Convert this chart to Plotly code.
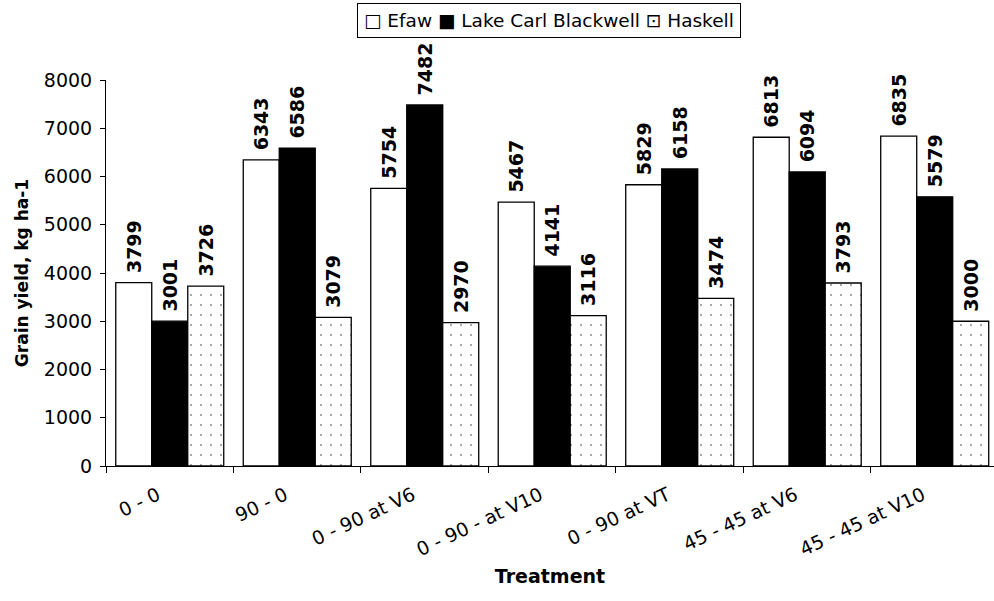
import plotly.graph_objects as go

treatments = ["0 - 0", "90 - 0", "0 - 90 at V6", "0 - 90 - at V10",
              "0 - 90 at VT", "45 - 45 at V6", "45 - 45 at V10"]
efaw = [3799, 6343, 5754, 5467, 5829, 6813, 6835]
lake_carl_blackwell = [3001, 6586, 7482, 4141, 6158, 6094, 5579]
haskell = [3726, 3079, 2970, 3116, 3474, 3793, 3000]

series_names = ["Efaw", "Lake Carl Blackwell", "Haskell"]
legend_marks = ["\u25A1", "\u25A0", "\u22A1"]

FONT = "DejaVu Sans"
outline = dict(color="black", width=1.3)

fig = go.Figure()

fig.add_trace(go.Bar(
    name=series_names[0], x=treatments, y=efaw,
    marker=dict(color="white", line=outline),
))
fig.add_trace(go.Bar(
    name=series_names[1], x=treatments, y=lake_carl_blackwell,
    marker=dict(color="black", line=outline),
))
fig.add_trace(go.Bar(
    name=series_names[2], x=treatments, y=haskell,
    marker=dict(color="white", line=outline,
                pattern=dict(shape=".", size=10, solidity=0.025,
                             fgcolor="black", bgcolor="white")),
))

# value labels above each bar, read bottom-to-top
fig.update_traces(
    texttemplate="\u00a0%{y}", textposition="outside", textangle=-90,
    constraintext="none", cliponaxis=False,
    textfont=dict(family=FONT, size=19, color="black", weight="bold"),
)

# boxed key above the plot
key_text = " ".join(f"{m} {n}" for m, n in zip(legend_marks, series_names))
fig.add_annotation(
    text=key_text, xref="paper", yref="paper", x=0.4994, y=1.153,
    xanchor="center", yanchor="middle", showarrow=False,
    font=dict(family=FONT, size=18.5, color="black"),
    bordercolor="black", borderwidth=1, borderpad=6, bgcolor="white",
)

fig.update_layout(
    width=994, height=601,
    margin=dict(l=106, r=0, t=80, b=135),
    paper_bgcolor="white", plot_bgcolor="white",
    barmode="group", bargap=0.153, bargroupgap=0,
    font=dict(family=FONT, size=19, color="black"),
    showlegend=False,
)

fig.update_xaxes(
    range=[-0.5, 6.465],
    showline=True, linecolor="black", linewidth=1,
    ticks="outside", tickson="boundaries", ticklen=6, tickcolor="black",
    tickangle=-25, tickfont=dict(family=FONT, size=19),
    ticklabelstandoff=10, ticklabelshift=-12,
    showgrid=False,
    title=dict(text="<b>Treatment</b>", font=dict(family=FONT, size=19), standoff=10),
)
fig.update_yaxes(
    range=[0, 8000], dtick=1000,
    showline=True, linecolor="black", linewidth=1,
    ticks="outside", ticklen=5, tickcolor="black",
    tickfont=dict(family=FONT, size=19),
    ticklabelstandoff=4,
    showgrid=False, zeroline=False,
    title=dict(text="<b>Grain yield, kg ha-1</b>", font=dict(family=FONT, size=17), standoff=10),
)

fig.write_html("out.html")
